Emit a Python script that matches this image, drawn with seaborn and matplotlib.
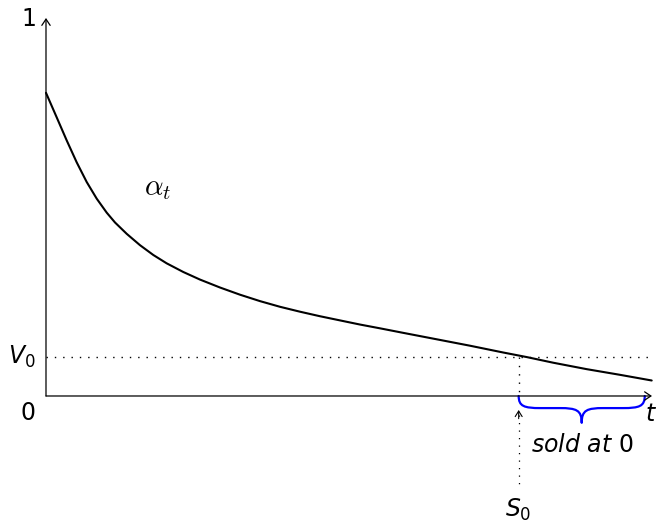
import numpy as np
import pandas as pd
import matplotlib
matplotlib.use("Agg")
import matplotlib.pyplot as plt
from matplotlib.path import Path
from matplotlib.patches import PathPatch
import seaborn as sns

# Decay curve alpha_t over time t (axis runs from 0 to T_END, value from 0 to 1)
t_vals = [0.0, 0.177, 0.342, 0.507, 0.672, 0.837, 1.002, 1.139, 1.332, 1.551,
          1.771, 1.991, 2.266, 2.541, 2.871, 3.201, 3.531, 3.861, 4.191, 4.521,
          4.851, 5.182, 5.512, 5.896, 6.447, 6.997, 7.546, 7.932, 8.371, 8.922,
          9.472, 9.995]
alpha_vals = [0.802, 0.737, 0.676, 0.618, 0.566, 0.522, 0.485, 0.459, 0.429, 0.399,
              0.373, 0.351, 0.328, 0.308, 0.287, 0.268, 0.251, 0.236, 0.223, 0.211,
              0.200, 0.189, 0.179, 0.167, 0.150, 0.133, 0.115, 0.103, 0.088, 0.071,
              0.056, 0.041]
V0 = 0.103          # threshold level
S0 = 7.80           # time at which alpha_t falls to V0
T_END = 10.0
Y_TOP = 1.0
BRACE_END = 9.88

sns.set_style("white")
plt.rcParams["mathtext.fontset"] = "dejavusans"
plt.rcParams["text.color"] = "black"

fig = plt.figure(figsize=(6.58, 5.23), dpi=100)
ax = fig.add_axes([0, 0, 1, 1])
ax.set_xlim(-0.759, 10.099)
ax.set_ylim(-0.336, 1.0476)
ax.axis("off")

df = pd.DataFrame({"t": t_vals, "alpha": alpha_vals})
sns.lineplot(data=df, x="t", y="alpha", color="black", lw=1.5, ax=ax,
             sort=False, estimator=None)

arrow = dict(arrowstyle="->,head_length=0.45,head_width=0.3", color="black",
             lw=0.9, shrinkA=0, shrinkB=0, mutation_scale=10)
# axes
ax.annotate("", xy=(T_END, 0), xytext=(0, 0), arrowprops=arrow)
ax.annotate("", xy=(0, Y_TOP), xytext=(0, 0), arrowprops=arrow)

# dotted guides for V0 and S0
dot = (0, (1, 5))
ax.plot([0, 9.96], [V0, V0], color="black", lw=1.0, linestyle=dot)
ax.plot([S0, S0], [V0, 0], color="black", lw=1.0, linestyle=dot)
ax.plot([S0, S0], [-0.050, -0.241], color="black", lw=0.9, linestyle=dot)
ax.annotate("", xy=(S0, -0.037), xytext=(S0, -0.060),
            arrowprops=dict(arrowstyle="->,head_length=0.4,head_width=0.25",
                            color="black", lw=0.8, shrinkA=0, shrinkB=0,
                            mutation_scale=10))

# brace under the interval [S0, BRACE_END]
x0, x1 = S0, BRACE_END
xm = (x0 + x1) / 2
r = 0.36
h1, h2 = 0.032, 0.071
verts = [(x0, 0),
         (x0, -h1 * 0.85), (x0 + r * 0.25, -h1), (x0 + r, -h1),
         (xm - r, -h1),
         (xm - r * 0.25, -h1), (xm, -h1 - 0.005), (xm, -h2),
         (xm, -h1 - 0.005), (xm + r * 0.25, -h1), (xm + r, -h1),
         (x1 - r, -h1),
         (x1 - r * 0.25, -h1), (x1, -h1 * 0.85), (x1, 0)]
codes = [Path.MOVETO,
         Path.CURVE4, Path.CURVE4, Path.CURVE4,
         Path.LINETO,
         Path.CURVE4, Path.CURVE4, Path.CURVE4,
         Path.CURVE4, Path.CURVE4, Path.CURVE4,
         Path.LINETO,
         Path.CURVE4, Path.CURVE4, Path.CURVE4]
ax.add_patch(PathPatch(Path(verts, codes), facecolor="none",
                       edgecolor="#0000ff", lw=1.6, capstyle="round",
                       joinstyle="round"))

fs = 17
ax.text(-0.17, 0.997, r"$1$", ha="right", va="center", fontsize=fs)
ax.text(-0.17, V0, r"$V_0$", ha="right", va="center", fontsize=fs)
ax.text(-0.30, -0.045, r"$0$", ha="center", va="center", fontsize=fs)
ax.text(1.85, 0.55, r"$\alpha_t$", ha="center", va="center", fontsize=21,
        math_fontfamily="cm")
ax.text(9.98, -0.048, r"$t$", ha="center", va="center", fontsize=fs)
ax.text(8.845, -0.130, r"$sold\ at\ 0$", ha="center", va="center", fontsize=fs)
ax.text(S0, -0.302, r"$S_0$", ha="center", va="center", fontsize=fs)

fig.savefig("out.png", dpi=100)
